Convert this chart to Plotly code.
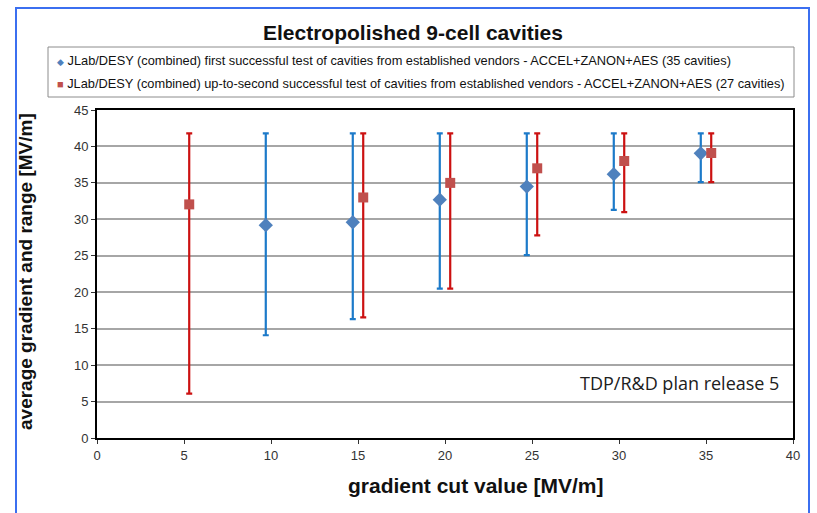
import plotly.graph_objects as go

# Series 1: first successful test (35 cavities)
cut1 = [9.7, 14.7, 19.7, 24.7, 29.7, 34.7]
avg1 = [29.2, 29.6, 32.7, 34.5, 36.2, 39.05]
max1 = [41.8, 41.8, 41.8, 41.8, 41.8, 41.8]
min1 = [14.1, 16.3, 20.5, 25.1, 31.3, 35.1]

# Series 2: up-to-second successful test (27 cavities)
cut2 = [5.3, 15.3, 20.3, 25.3, 30.3, 35.3]
avg2 = [32.05, 33.0, 35.0, 37.0, 38.0, 39.1]
max2 = [41.8, 41.8, 41.8, 41.8, 41.8, 41.8]
min2 = [6.1, 16.55, 20.5, 27.8, 31.0, 35.1]

name1 = "JLab/DESY (combined) first successful test of cavities from established vendors - ACCEL+ZANON+AES (35 cavities)"
name2 = "JLab/DESY (combined) up-to-second successful test of cavities from established vendors - ACCEL+ZANON+AES (27 cavities)"

xticks = [0, 5, 10, 15, 20, 25, 30, 35, 40]
yticks = [0, 5, 10, 15, 20, 25, 30, 35, 40, 45]

W, H = 817, 513
L, R, T, B = 97, 793, 110, 438
pw, ph = R - L, B - T

def px(x):
    return (x - L) / pw

def py(y):
    return (B - y) / ph

fig = go.Figure()
fig.add_trace(go.Scatter(
    x=cut1, y=avg1, mode="markers", name=name1, showlegend=False,
    marker=dict(symbol="diamond", size=11, color="#4F81BD"),
    error_y=dict(type="data", symmetric=False,
                 array=[a - b for a, b in zip(max1, avg1)],
                 arrayminus=[b - a for a, b in zip(min1, avg1)],
                 color="#1C7AC9", thickness=2.2, width=3),
))
fig.add_trace(go.Scatter(
    x=cut2, y=avg2, mode="markers", name=name2, showlegend=False,
    marker=dict(symbol="square", size=10, color="#C0504D"),
    error_y=dict(type="data", symmetric=False,
                 array=[a - b for a, b in zip(max2, avg2)],
                 arrayminus=[b - a for a, b in zip(min2, avg2)],
                 color="#CC1111", thickness=2.2, width=3),
))

font_main = "Liberation Sans, Arial, sans-serif"

annotations = [
    dict(text="<b>Electropolished 9-cell cavities</b>", x=px(413), y=py(32),
         xref="paper", yref="paper", showarrow=False, xanchor="center", yanchor="middle",
         font=dict(family=font_main, size=21, color="#111111")),
    dict(text="<b>average gradient and range [MV/m]</b>", x=px(25), y=py(272),
         xref="paper", yref="paper", showarrow=False, textangle=-90,
         xanchor="center", yanchor="middle",
         font=dict(family=font_main, size=19, color="#111111")),
    dict(text="<b>gradient cut value [MV/m]</b>", x=px(476), y=py(486),
         xref="paper", yref="paper", showarrow=False,
         xanchor="center", yanchor="middle",
         font=dict(family=font_main, size=21, color="#111111")),
    dict(text="TDP/R&D plan release 5", x=px(781), y=py(383),
         xref="paper", yref="paper", showarrow=False,
         xanchor="right", yanchor="middle",
         font=dict(family="Open Sans, Noto Sans, sans-serif", size=18, color="#202020")),
    dict(text="<span style='color:#4F81BD;font-size:9px'>◆</span> " + name1, x=px(55), y=py(61),
         xref="paper", yref="paper", showarrow=False,
         xanchor="left", yanchor="middle",
         font=dict(family=font_main, size=12.8, color="#111111")),
    dict(text="<span style='color:#C0504D;font-size:11px'>■</span> " + name2, x=px(55), y=py(84),
         xref="paper", yref="paper", showarrow=False,
         xanchor="left", yanchor="middle",
         font=dict(family=font_main, size=12.8, color="#111111")),
]

shapes = [
    dict(type="rect", xref="paper", yref="paper",
         x0=px(16), x1=px(809), y0=py(560), y1=py(8),
         line=dict(color="#3B6FF0", width=2), fillcolor="rgba(0,0,0,0)", layer="below"),
    dict(type="rect", xref="paper", yref="paper",
         x0=px(48), x1=px(794), y0=py(97), y1=py(47),
         line=dict(color="#8C8C8C", width=1), fillcolor="rgba(0,0,0,0)"),
]

fig.update_layout(
    width=W, height=H,
    margin=dict(l=L, r=W - R, t=T, b=H - B, pad=0),
    paper_bgcolor="white", plot_bgcolor="white",
    showlegend=False,
    annotations=annotations,
    shapes=shapes,
    font=dict(family=font_main),
)
fig.update_xaxes(
    range=[0, 40], tickvals=xticks, showgrid=False, zeroline=False,
    showline=True, linecolor="black", linewidth=2, mirror=True,
    ticks="outside", ticklen=4, tickcolor="#333333",
    tickfont=dict(family=font_main, size=13, color="#333333"),
)
fig.update_yaxes(
    range=[0, 45], tickvals=yticks, showgrid=True, gridcolor="#A6A6A6", gridwidth=1.5,
    zeroline=False,
    showline=True, linecolor="black", linewidth=2, mirror=True,
    ticks="outside", ticklen=4, tickcolor="#333333",
    tickfont=dict(family=font_main, size=13, color="#333333"),
)

fig.write_html("out.html")
